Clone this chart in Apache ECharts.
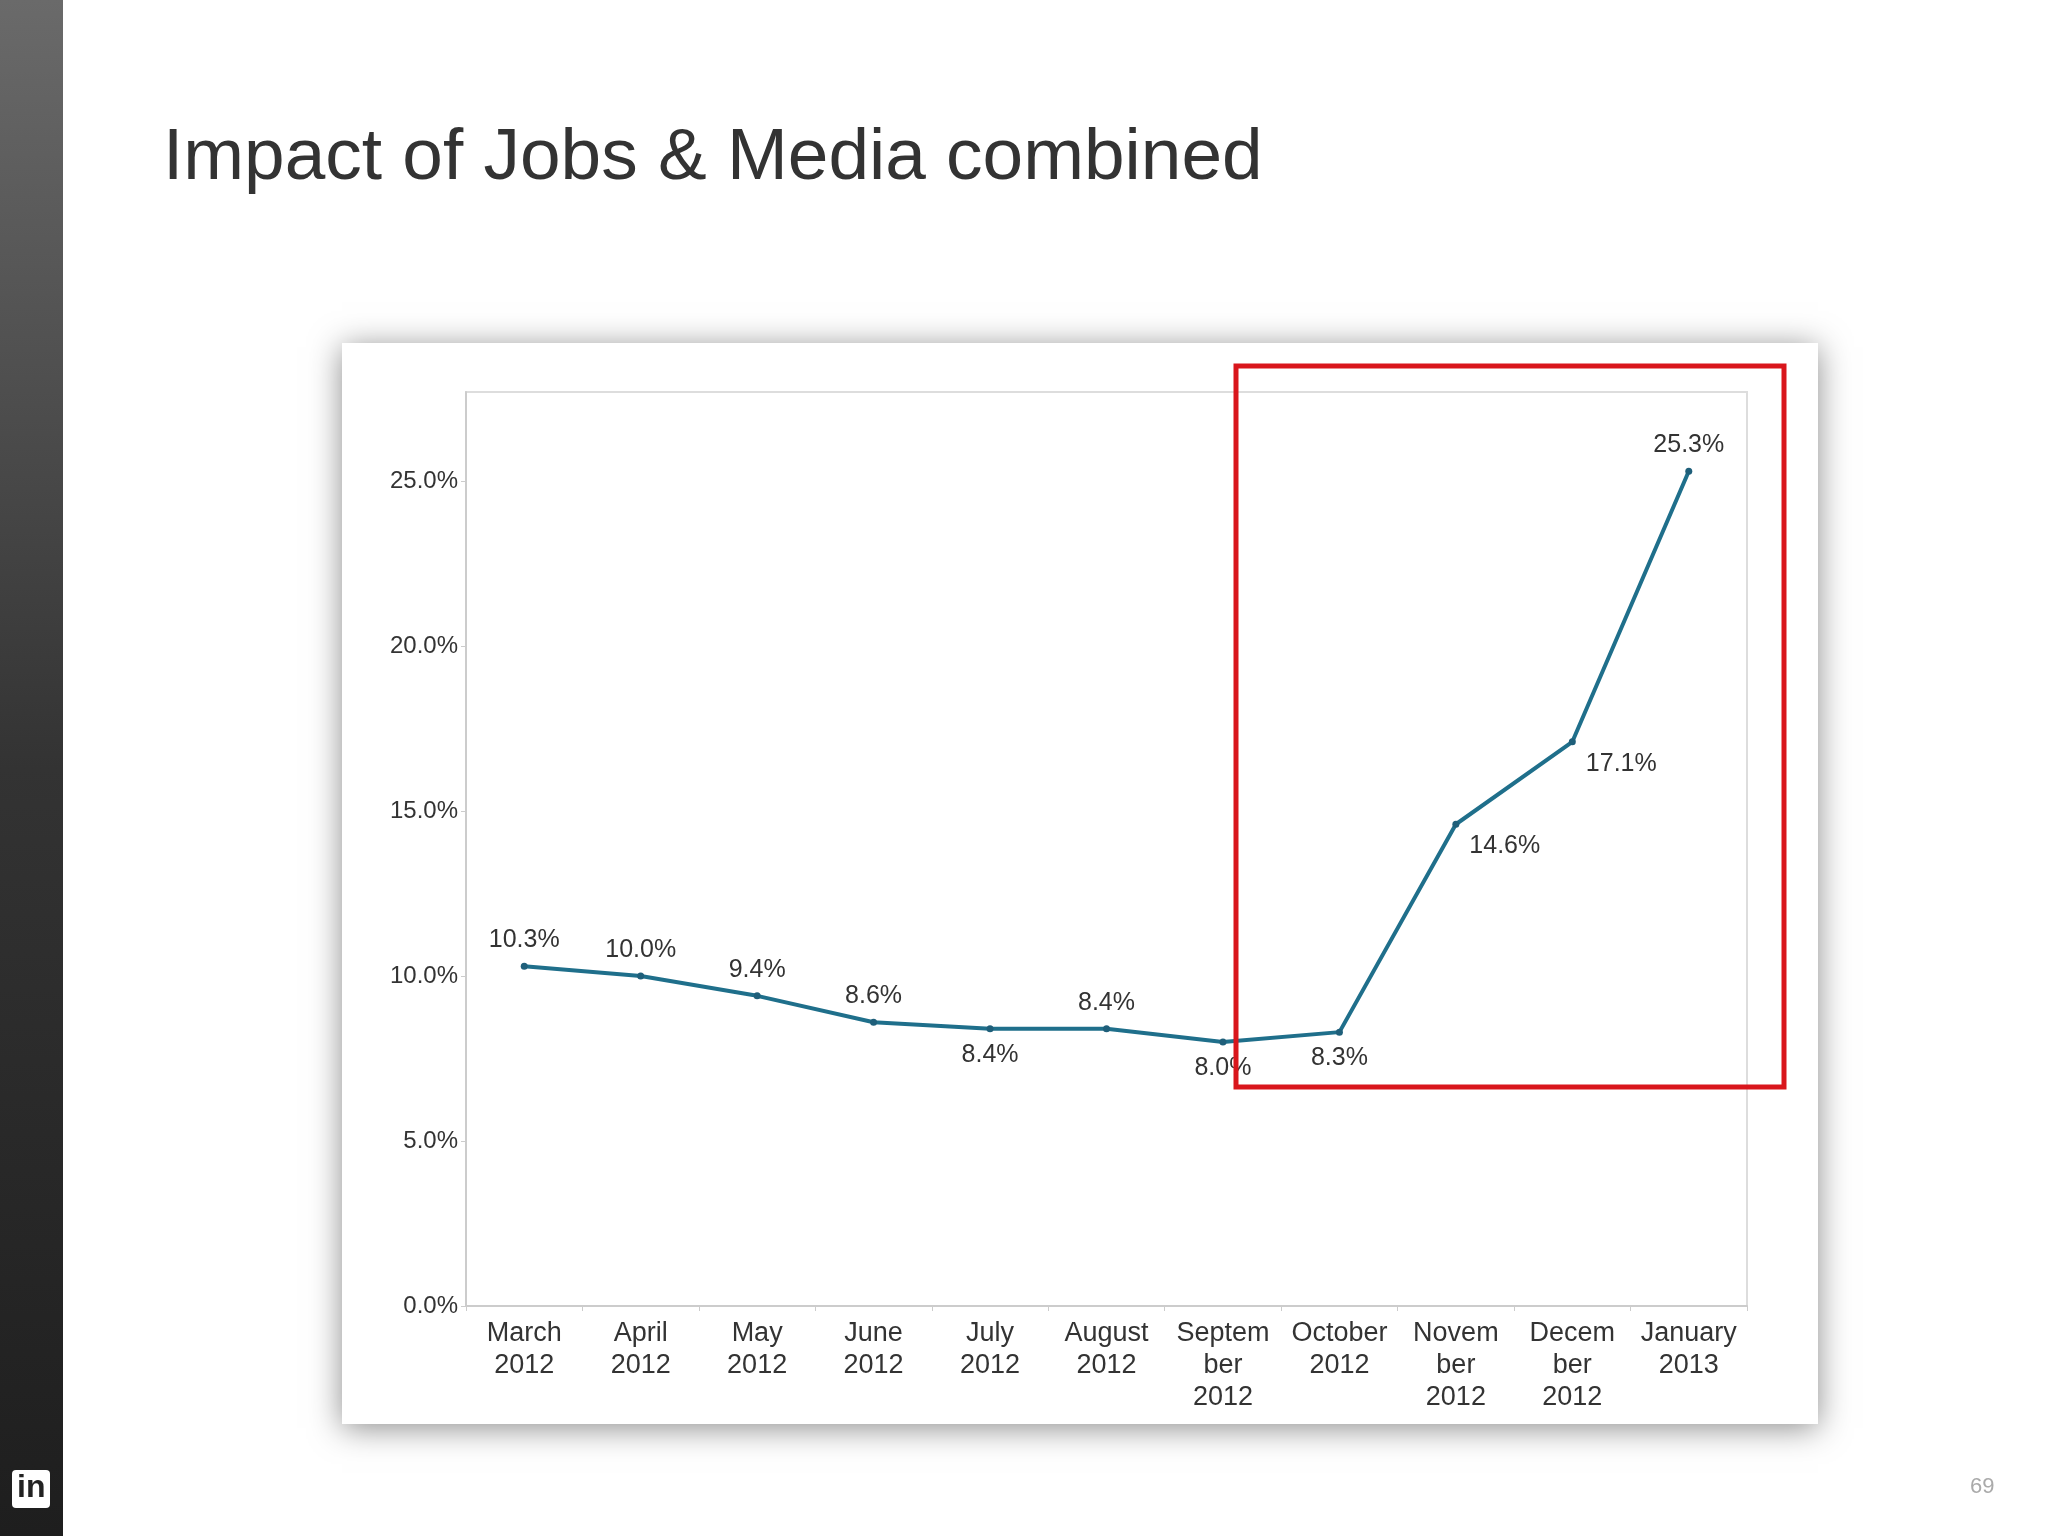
<!DOCTYPE html>
<html><head><meta charset="utf-8">
<script src="https://cdn.jsdelivr.net/npm/echarts@6/dist/echarts.min.js"></script>
<style>html,body{margin:0;padding:0;background:#fff}#c{width:2048px;height:1536px}</style>
</head><body><div id="c"></div>
<script>
var categories = ['March\n2012','April\n2012','May\n2012','June\n2012','July\n2012','August\n2012','Septem\nber\n2012','October\n2012','Novem\nber\n2012','Decem\nber\n2012','January\n2013'];
var values = [10.3, 10.0, 9.4, 8.6, 8.4, 8.4, 8.0, 8.3, 14.6, 17.1, 25.3];
var labelPos = ['top','top','top','top','bottom','top','bottom','bottom','right','right','top'];
var yTicks = [0, 5, 10, 15, 20, 25];

var chart = echarts.init(document.getElementById('c'));
var option = {
  backgroundColor: '#fff',
  graphic: [
    {type:'rect', shape:{x:0,y:0,width:63,height:1536}, z:-1,
     style:{fill:new echarts.graphic.LinearGradient(0,0,0,1,[{offset:0,color:'#6a6a6a'},{offset:0.5,color:'#333'},{offset:1,color:'#1e1e1e'}])}},
    {type:'rect', shape:{x:12,y:1470,width:38,height:38,r:4}, style:{fill:'#fff'}},
    {type:'text', x:17, y:1472, style:{text:'in', fill:'#222', font:'bold 32px Arial'}},
    {type:'text', x:163, y:122, style:{text:'Impact of Jobs & Media combined', fill:'#333', font:'73px Arial'}},
    {type:'text', x:1970, y:1476, style:{text:'69', fill:'#aaa', font:'22px Arial'}},
    {type:'rect', shape:{x:342,y:343,width:1476,height:1081}, z:-1,
     style:{fill:'#fff', shadowBlur:30, shadowColor:'rgba(0,0,0,0.45)', shadowOffsetY:4}},
    {type:'rect', shape:{x:466,y:392,width:1281,height:914}, z:-1,
     style:{fill:'#fff', stroke:'#ddd', lineWidth:2}},
    {type:'rect', shape:{x:1236,y:366,width:548,height:721}, z:10,
     style:{fill:'none', stroke:'#d9161c', lineWidth:5}}
  ],
  grid: {left:466, right:301, top:392, bottom:230},
  xAxis: {
    type:'category', data:categories, boundaryGap:true,
    axisLine:{lineStyle:{color:'#ccc', width:2}},
    axisTick:{show:true, lineStyle:{color:'#ccc'}},
    axisLabel:{color:'#333', fontSize:27, fontFamily:'Arial', lineHeight:32, interval:0, margin:12}
  },
  yAxis: {
    type:'value', min:0, max:27.7, interval:5,
    axisLine:{show:true, lineStyle:{color:'#ccc', width:2}},
    axisTick:{show:true, lineStyle:{color:'#ccc'}},
    splitLine:{show:false},
    axisLabel:{color:'#333', fontSize:24, fontFamily:'Arial', showMaxLabel:false,
      formatter:function(v){return yTicks.indexOf(v)>=0 ? v.toFixed(1)+'%' : '';}}
  },
  series: [{
    type:'line', symbol:'circle', symbolSize:7,
    lineStyle:{color:'#1f6f8b', width:4}, itemStyle:{color:'#1f5f7a'},
    data: values.map(function(v,i){
      var right = labelPos[i] === 'right';
      return {value:v, label:{show:true, position:labelPos[i], distance:10,
        offset: right ? [0, 22] : [0, 0],
        color:'#333', fontSize:25, fontFamily:'Arial', formatter:v.toFixed(1)+'%'}};
    })
  }]
};
chart.setOption(option);
</script></body></html>
